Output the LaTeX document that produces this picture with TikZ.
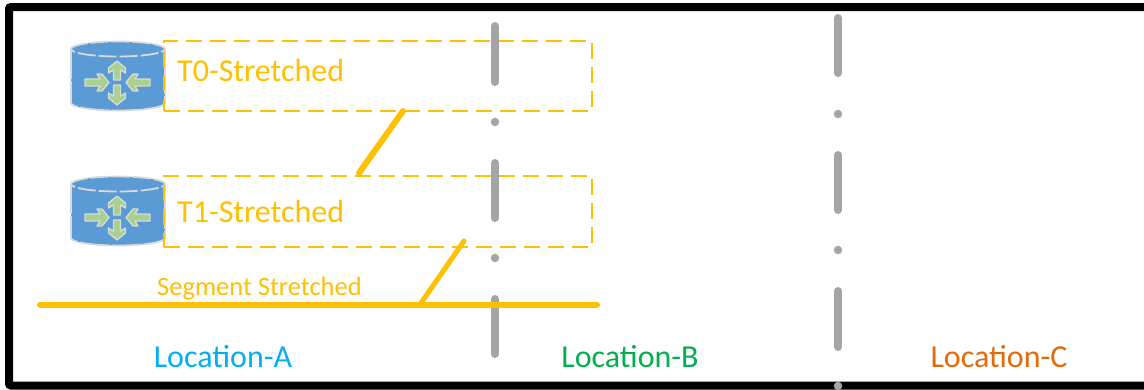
\documentclass[tikz,border=0pt]{standalone}
\usepackage{fontspec}
\setmainfont{Carlito}
\definecolor{amber}{HTML}{FFC000}
\definecolor{gbar}{HTML}{A5A5A5}
\definecolor{cylblue}{HTML}{5B9BD5}
\definecolor{rimgray}{HTML}{D9D9D9}
\definecolor{arrowgreen}{HTML}{A9D18E}
\definecolor{locA}{HTML}{00B0F0}
\definecolor{locB}{HTML}{00B050}
\definecolor{locC}{HTML}{E36C0A}
\tikzset{
  stretchbox/.style={draw=amber,line width=2pt,dash pattern=on 16pt off 8pt},
  thickamber/.style={draw=amber,line width=6pt,line cap=round},
  divider/.style={draw=gbar,line width=8pt,line cap=round},
  dotmark/.style={circle,fill=gbar,inner sep=0pt,minimum size=8.5pt},
  lbl/.style={inner sep=0pt,anchor=base},
  onearrow/.style={draw=rimgray,fill=arrowgreen,line width=1.3pt,line join=round},
  router/.pic={
    \fill[cylblue] (-47,-27) -- (-47,27) arc[x radius=47,y radius=7.5,start angle=180,end angle=0] -- (47,-27) arc[x radius=47,y radius=7.5,start angle=0,end angle=-180] -- cycle;
    \draw[rimgray,line width=1.8pt,dash pattern=on 30pt off 2pt] (-47,-27) -- (-47,27) arc[x radius=47,y radius=7.5,start angle=180,end angle=0] -- (47,-27);
    \draw[rimgray,line width=1.8pt,dash pattern=on 18pt off 3pt] (-47,-27) arc[x radius=47,y radius=7.5,start angle=180,end angle=540];
    \foreach \px/\py/\a/\len in {-1/4/90/19, -1/9/-90/20, -33/6.5/0/24, 32/6.5/180/24}{
      \begin{scope}[shift={(\px,\py)},rotate=\a]
        \path[onearrow] (0,-3.5) -- (\len-9,-3.5) -- (\len-12,-8.5) -- (\len-7,-8.5) -- (\len,0)
          -- (\len-7,8.5) -- (\len-12,8.5) -- (\len-9,3.5) -- (0,3.5) -- cycle;
      \end{scope}
    }
  },
}
\begin{document}
\begin{tikzpicture}[x=1pt,y=-1pt]
\useasboundingbox (0,0) rectangle (1144,389);
\fill[white] (0,0) rectangle (1144,389);
% routers
\pic at (118,76) {router};
\pic at (118,211) {router};
% stretched boxes
\node[stretchbox,minimum width=428pt,minimum height=70pt,inner sep=0pt] (t0) at (378,76) {};
\node[stretchbox,minimum width=428pt,minimum height=71pt,inner sep=0pt] (t1) at (378,211.5) {};
% dividers
\draw[divider] (495,26) -- (495,82);
\node[dotmark] (d1) at (495,122) {};
\draw[divider] (495,163) -- (495,218);
\node[dotmark] (d2) at (495,258) {};
\draw[divider] (495,299) -- (495,354);
\draw[divider] (838,18) -- (838,73);
\node[dotmark] (d3) at (838,114) {};
\draw[divider] (838,155) -- (838,210);
\node[dotmark] (d4) at (838,250) {};
\draw[divider] (838,291) -- (838,347);
% frame
\draw[black,line width=8pt,rounded corners=2pt] (9,7) rectangle (1150,385.5);
\node[dotmark] (d5) at (838,386) {};
% labels
\node[lbl,text=amber,font=\fontsize{32}{32}\selectfont,anchor=base west] (l0) at (177,81) {T0-Stretched};
\node[lbl,text=amber,font=\fontsize{32}{32}\selectfont,anchor=base west] (l1) at (177,222) {T1-Stretched};
\node[lbl,text=amber,font=\fontsize{26.5}{26.5}\selectfont,anchor=base west] (ls) at (157,295.5) {Segment Stretched};
\node[lbl,text=locA,font=\fontsize{32}{32}\selectfont] (la) at (223,367) {Location-A};
\node[lbl,text=locB,font=\fontsize{32}{32}\selectfont] (lb) at (630,367) {Location-B};
\node[lbl,text=locC,font=\fontsize{32}{32}\selectfont] (lc) at (999,367) {Location-C};
% amber links
\coordinate (s0) at (40,304.5);
\coordinate (s1) at (597,304.5);
\draw[thickamber] (s0) -- (s1);
\coordinate (a0) at (403,111);
\coordinate (a1) at (359,173);
\draw[thickamber] (a0) -- (a1);
\coordinate (b0) at (464,241);
\coordinate (b1) at (421,303);
\draw[thickamber,line width=5pt] (b0) -- (b1);
\end{tikzpicture}
\end{document}
